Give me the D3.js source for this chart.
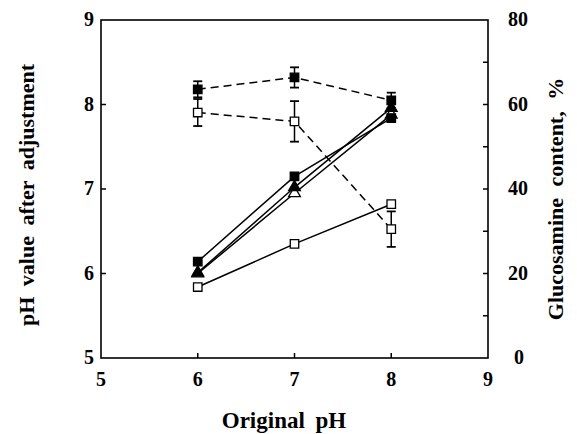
<!DOCTYPE html>
<html>
<head>
<meta charset="utf-8">
<script src="https://cdn.jsdelivr.net/npm/d3@7"></script>
<style>
  body { margin: 0; background: #fff; }
  text { font-family: "Liberation Serif", "Times New Roman", serif; font-weight: bold; fill: #000; }
</style>
</head>
<body>
<script>
const phOriginal = [6, 7, 8];

// pH after adjustment (left axis, solid lines)
const phFilledSquare = [6.14, 7.15, 7.84];
const phFilledTriangle = [6.01, 7.02, 7.96];
const phOpenTriangle = [6.0, 6.95, 7.88];
const phOpenSquare = [5.84, 6.35, 6.82];

// glucosamine content, % (right axis, dashed lines)
const glcFilled = [63.6, 66.4, 61.0];
const glcFilledErr = [1.9, 2.4, 1.8];
const glcOpen = [58.1, 56.0, 30.5];
const glcOpenErr = [3.2, 4.8, 4.2];

const xTicks = [5, 6, 7, 8, 9];
const leftTicks = [5, 6, 7, 8, 9];
const rightTicks = [0, 20, 40, 60, 80];
const rightMinor = [10, 30, 50, 70];

const width = 577, height = 434;
const m = {left: 101, right: 488, top: 20, bottom: 358};

const x = d3.scaleLinear().domain([5, 9]).range([m.left, m.right]);
const yL = d3.scaleLinear().domain([5, 9]).range([m.bottom, m.top]);
const yR = d3.scaleLinear().domain([0, 80]).range([m.bottom, m.top]);

const svg = d3.select("body").append("svg")
  .attr("width", width)
  .attr("height", height);

// frame
svg.append("rect")
  .attr("x", m.left).attr("y", m.top)
  .attr("width", m.right - m.left).attr("height", m.bottom - m.top)
  .attr("fill", "none").attr("stroke", "#000").attr("stroke-width", 1.6);

// ticks (inward)
svg.selectAll(".xt").data(xTicks.slice(1, -1)).enter().append("line")
  .attr("x1", d => x(d)).attr("x2", d => x(d))
  .attr("y1", m.bottom).attr("y2", m.bottom - 5)
  .attr("stroke", "#000").attr("stroke-width", 1.5);
svg.selectAll(".lt").data(leftTicks.slice(1, -1)).enter().append("line")
  .attr("x1", m.left).attr("x2", m.left + 5)
  .attr("y1", d => yL(d)).attr("y2", d => yL(d))
  .attr("stroke", "#000").attr("stroke-width", 1.5);
svg.selectAll(".rt").data(rightTicks.slice(1, -1).concat(rightMinor)).enter().append("line")
  .attr("x1", m.right).attr("x2", m.right - 5)
  .attr("y1", d => yR(d)).attr("y2", d => yR(d))
  .attr("stroke", "#000").attr("stroke-width", 1.5);

// tick labels
svg.selectAll(".xl").data(xTicks).enter().append("text")
  .attr("x", d => x(d)).attr("y", m.bottom + 28)
  .attr("text-anchor", "middle").attr("font-size", 20)
  .text(d => d);
svg.selectAll(".ll").data(leftTicks).enter().append("text")
  .attr("x", m.left - 7).attr("y", d => yL(d) + 6)
  .attr("text-anchor", "end").attr("font-size", 20)
  .text(d => d);
svg.selectAll(".rl").data(rightTicks).enter().append("text")
  .attr("x", d => d === 0 ? 519 : 518).attr("y", d => yR(d) + 6)
  .attr("text-anchor", "middle").attr("font-size", 20)
  .text(d => d);

// axis titles
svg.append("text")
  .attr("x", 284).attr("y", 428)
  .attr("text-anchor", "middle").attr("font-size", 23)
  .attr("word-spacing", 5)
  .text("Original pH");
svg.append("text")
  .attr("transform", `translate(34,${(m.top + m.bottom) / 2 + 6}) rotate(-90)`)
  .attr("text-anchor", "middle").attr("font-size", 22)
  .attr("word-spacing", 5)
  .text("pH value after adjustment");
svg.append("text")
  .attr("transform", `translate(563,${(m.top + m.bottom) / 2 + 10}) rotate(-90)`)
  .attr("text-anchor", "middle").attr("font-size", 22)
  .attr("word-spacing", 6)
  .text("Glucosamine content, %");

const solid = [
  {vals: phOpenSquare, mark: "square", fill: "#fff"},
  {vals: phOpenTriangle, mark: "triangle", fill: "#fff"},
  {vals: phFilledTriangle, mark: "triangle", fill: "#000"},
  {vals: phFilledSquare, mark: "square", fill: "#000"}
];
const dashed = [
  {vals: glcOpen, err: glcOpenErr, mark: "square", fill: "#fff"},
  {vals: glcFilled, err: glcFilledErr, mark: "square", fill: "#000"}
];

const line = sc => d3.line().x((d, i) => x(phOriginal[i])).y(d => sc(d));

// lines first
solid.forEach(s => {
  svg.append("path").datum(s.vals).attr("d", line(yL))
    .attr("fill", "none").attr("stroke", "#000").attr("stroke-width", 1.5);
});
dashed.forEach(s => {
  svg.append("path").datum(s.vals).attr("d", line(yR))
    .attr("fill", "none").attr("stroke", "#000").attr("stroke-width", 1.5)
    .attr("stroke-dasharray", "8,5");
  // error bars
  const g = svg.append("g");
  s.vals.forEach((v, i) => {
    const cx = x(phOriginal[i]);
    const y1 = yR(v + s.err[i]), y2 = yR(v - s.err[i]);
    g.append("line").attr("x1", cx).attr("x2", cx).attr("y1", y1).attr("y2", y2)
      .attr("stroke", "#000").attr("stroke-width", 1.5);
    [y1, y2].forEach(yy => g.append("line")
      .attr("x1", cx - 4.5).attr("x2", cx + 4.5).attr("y1", yy).attr("y2", yy)
      .attr("stroke", "#000").attr("stroke-width", 1.8));
  });
});

const sym = {
  square: d3.symbol().type(d3.symbolSquare).size(72),
  triangle: d3.symbol().type(d3.symbolTriangle).size(60)
};

function drawMarks(s, sc) {
  svg.append("g").selectAll("path").data(s.vals).enter().append("path")
    .attr("d", sym[s.mark])
    .attr("transform", (d, i) => `translate(${x(phOriginal[i])},${sc(d)})`)
    .attr("fill", s.fill).attr("stroke", "#000").attr("stroke-width", 1.3);
}
solid.forEach(s => drawMarks(s, yL));
dashed.forEach(s => drawMarks(s, yR));
</script>
</body>
</html>
